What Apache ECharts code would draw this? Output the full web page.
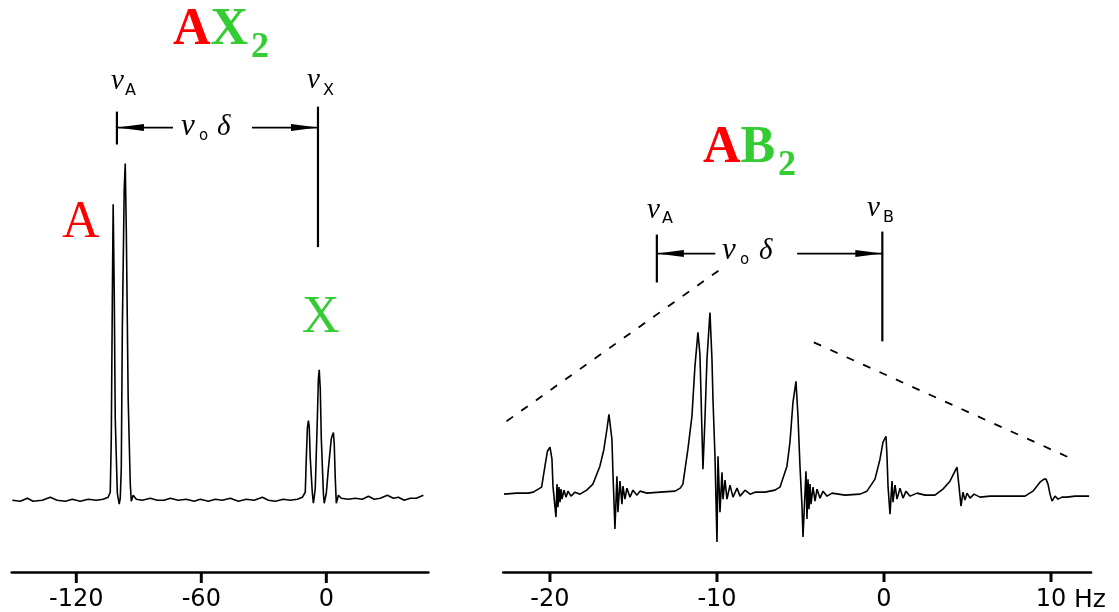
<!DOCTYPE html>
<html>
<head>
<meta charset="utf-8">
<script src="https://cdn.jsdelivr.net/npm/echarts@6/dist/echarts.min.js"></script>
<style>
  html, body { margin: 0; padding: 0; background: #fff; }
  #chart { width: 1119px; height: 612px; }
</style>
</head>
<body>
<div id="chart"></div>
<script>
// AX2 spectrum, [Hz, intensity]
var ax2Trace = [
  [-150.7,0],[-146.9,-1],[-143.5,2],[-140.7,-1],[-136.3,0],[-132.5,3],[-129.2,0],[-125.3,-1],
  [-121.9,1],[-118.1,-1],[-114.3,1],[-110.4,0],[-107.1,1],[-104.7,3],[-103.7,8],[-103.2,62],
  [-102.7,202],[-102.3,297],[-101.8,212],[-101.3,82],[-100.3,7],[-99.4,-4],[-98.9,2],[-98.4,32],
  [-97.9,172],[-97.0,312],[-96.5,338],[-96.0,272],[-95.1,102],[-94.1,17],[-93.6,-1],[-92.7,5],
  [-91.2,1],[-88.3,0],[-84.5,2],[-81.1,0],[-77.8,0],[-74.9,2],[-71.1,0],[-67.2,1],[-63.4,-1],
  [-60.5,1],[-56.6,-1],[-53.3,1],[-49.9,0],[-46.1,2],[-42.2,-1],[-38.4,1],[-34.6,0],[-30.7,3],
  [-27.8,0],[-24.5,-1],[-20.6,1],[-17.3,0],[-13.9,1],[-11.5,3],[-10.1,8],[-9.6,42],[-9.1,72],
  [-8.6,80],[-8.2,74],[-7.7,42],[-6.7,7],[-6.2,-3],[-5.3,12],[-4.3,82],[-3.8,122],[-3.4,131],
  [-2.9,112],[-2.4,62],[-1.4,7],[-1.0,-3],[0,7],[1.0,32],[2.4,62],[3.4,68],[3.8,57],[4.3,22],
  [4.8,-3],[5.8,5],[7.2,2],[10.6,1],[13.9,2],[17.3,1],[20.2,4],[23.0,1],[25.9,2],[29.3,5],
  [32.2,2],[34.6,3],[37.4,0],[40.3,2],[43.2,2],[46.6,5]
]

// AB2 spectrum, [Hz, intensity]
var ab2Trace = [
  [-22.75,0],[-22.0,1],[-21.3,1],[-21.0,2],[-20.5,7],[-20.3,28],[-20.15,43],[-20.0,47],
  [-19.88,35],[-19.82,8],[-19.64,-23],[-19.58,10],[-19.52,-13],[-19.46,7],[-19.4,-8],[-19.34,5],
  [-19.28,-5],[-19.16,4],[-19.04,-3],[-18.92,3],[-18.74,-2],[-18.5,2],[-18.2,0],[-17.8,4],
  [-17.43,10],[-17.01,28],[-16.77,45],[-16.59,65],[-16.47,80],[-16.29,55],[-16.23,22],[-16.11,-35],
  [-15.99,18],[-15.93,-18],[-15.81,13],[-15.69,-10],[-15.63,8],[-15.51,-5],[-15.39,6],[-15.21,-3],
  [-15.03,4],[-14.79,-1],[-14.61,3],[-14.19,1],[-13.41,2],[-12.51,3],[-12.2,6],[-12.04,10],
  [-11.74,45],[-11.5,78],[-11.32,128],[-11.14,162],[-11.02,140],[-10.84,25],[-10.72,75],[-10.6,135],
  [-10.42,182],[-10.3,135],[-10.24,95],[-10.12,38],[-10.0,-48],[-9.94,38],[-9.82,-18],[-9.7,22],
  [-9.64,-5],[-9.52,14],[-9.4,-5],[-9.22,9],[-9.04,-3],[-8.8,6],[-8.62,-2],[-8.32,4],[-8.02,0],
  [-7.72,2],[-7.13,2],[-6.53,4],[-6.23,7],[-5.81,28],[-5.63,52],[-5.45,92],[-5.27,113],[-5.15,78],
  [-5.03,28],[-4.91,-12],[-4.85,-43],[-4.67,23],[-4.61,-25],[-4.55,15],[-4.49,-15],[-4.43,10],
  [-4.37,-10],[-4.25,7],[-4.13,-7],[-4.01,5],[-3.83,-4],[-3.65,3],[-3.41,-2],[-3.11,1],[-2.34,-1],
  [-1.44,0],[-1.02,3],[-0.54,15],[-0.24,35],[-0.06,52],[0.12,58],[0.18,38],[0.24,8],[0.36,-20],
  [0.48,13],[0.54,-8],[0.66,9],[0.78,-5],[0.96,6],[1.14,-4],[1.32,3],[1.56,-2],[1.98,1],[2.46,-1],
  [3.05,-1],[3.53,5],[3.95,13],[4.25,23],[4.37,27],[4.49,8],[4.61,-12],[4.73,2],[4.85,-6],[4.97,1],
  [5.15,-4],[5.39,0],[5.75,-3],[6.35,-2],[7.54,-2],[8.44,-2],[8.92,3],[9.34,12],[9.58,15],[9.7,15],
  [9.82,10],[9.94,0],[10.06,-7],[10.24,-2],[10.42,-5],[10.66,-3],[10.96,-3],[11.44,-2],[12.28,-2]
]

var ax2Ticks = [-120, -60, 0]
var ab2Ticks = [-20, -10, 0, 10]

// chemical shift markers (Hz)
var ax2Nu = [-100.5, -4.0]   // nuA, nuX
var ab2Nu = [-13.6, -0.1]    // nuA, nuB

// dashed envelope of the AB2 pattern
var ab2EnvLeft = [[-22.6, 73], [-9.9, 224]]
var ab2EnvRight = [[-4.2, 152], [11.3, 35]]

var chart = echarts.init(document.getElementById('chart'))

function xAxisFor(grid, min, max, ticks) {
  return {
    type: 'value', gridIndex: grid, min: min, max: max, position: 'bottom',
    axisLine: { onZero: false, lineStyle: { color: '#000', width: 2.5 } },
    axisTick: { show: false },
    axisLabel: { customValues: ticks, color: '#000', fontFamily: 'DejaVu Sans', fontSize: 24, margin: 16 },
    splitLine: { show: false }
  }
}

var traceStyle = { color: '#000', width: 1.6 }
var gridBottom = [38, 39]

chart.setOption({
  animation: false,
  backgroundColor: '#fff',
  grid: [
    { left: 11.7, width: 416.7, top: 0, bottom: gridBottom[0] },
    { left: 503.2, width: 587.9, top: 0, bottom: gridBottom[1] }
  ],
  xAxis: [
    xAxisFor(0, -151, 49, ax2Ticks),
    xAxisFor(1, -22.8, 12.4, ab2Ticks)
  ],
  yAxis: [
    { type: 'value', gridIndex: 0, min: -72, max: 502, show: false },
    { type: 'value', gridIndex: 1, min: -78, max: 495, show: false }
  ],
  series: [
    { type: 'line', xAxisIndex: 0, yAxisIndex: 0, data: ax2Trace, showSymbol: false, lineStyle: traceStyle, silent: true },
    { type: 'line', xAxisIndex: 1, yAxisIndex: 1, data: ab2Trace, showSymbol: false, lineStyle: traceStyle, silent: true },
    { type: 'line', xAxisIndex: 1, yAxisIndex: 1, data: ab2EnvLeft, showSymbol: false, silent: true,
      lineStyle: { color: '#000', width: 1.8, type: [8, 10] } },
    { type: 'line', xAxisIndex: 1, yAxisIndex: 1, data: ab2EnvRight, showSymbol: false, silent: true,
      lineStyle: { color: '#000', width: 1.8, type: [8, 10] } }
  ]
})

// annotations: brackets, arrows and ticks placed in data space
function px(g, p) { return chart.convertToPixel({ gridIndex: g }, p) }

var gfx = []
function seg(a, b, w) {
  gfx.push({ type: 'line', z: 100, shape: { x1: a[0], y1: a[1], x2: b[0], y2: b[1] },
    style: { stroke: '#000', lineWidth: w || 2 }, silent: true })
}
function vbar(g, hz, i1, i2) { seg(px(g, [hz, i1]), px(g, [hz, i2]), 2.2) }
function arrow(g, fromHz, toHz, inten) {
  var a = px(g, [fromHz, inten]), b = px(g, [toHz, inten])
  seg(a, b, 1.8)
  var dir = b[0] > a[0] ? 1 : -1
  gfx.push({ type: 'polygon', silent: true,
    shape: { points: [[b[0], b[1]], [b[0] - dir * 27, b[1] - 3.5], [b[0] - dir * 27, b[1] + 3.5]] },
    style: { fill: '#000' } })
}
function txt(x, y, text, font, color, rich) {
  gfx.push({ type: 'text', silent: true, x: x, y: y,
    style: { text: text, font: font, fill: color || '#000', verticalAlign: 'middle', align: 'left', rich: rich } })
}

// axis ticks, hanging below each axis line
function ticks(g, vals) {
  var yAxisLine = 612 - gridBottom[g]
  vals.forEach(function (v) {
    var x = px(g, [v, 0])[0]
    gfx.push({ type: 'rect', z: 100, silent: true,
      shape: { x: x - 1.5, y: yAxisLine - 1, width: 3, height: 10 },
      style: { fill: '#000' } })
  })
}
ticks(0, ax2Ticks)
ticks(1, ab2Ticks)

// AX2 brackets
vbar(0, ax2Nu[0], 390, 357)
vbar(0, ax2Nu[1], 395, 254)
arrow(0, -73.6, ax2Nu[0], 374)
arrow(0, -35.7, ax2Nu[1], 374)
// AB2 brackets
vbar(1, ab2Nu[0], 260, 212)
vbar(1, ab2Nu[1], 263, 153)
arrow(1, -10.1, ab2Nu[0], 241)
arrow(1, -5.2, ab2Nu[1], 241)

var serifB = 'bold 52px "Liberation Serif"'
var serif = '52px "Liberation Serif"'
var nuF = 'italic 29px "Liberation Serif"'
var subF = '16px "DejaVu Sans"'
var red = '#ff0000', green = '#33cc33'

// titles
txt(173, 31, '{a|A}{b|X}', serifB, red, { a: { fill: red, font: serifB }, b: { fill: green, font: serifB } })
txt(251, 48, '2', 'bold 36px "Liberation Serif"', green)
txt(703, 149, '{a|A}{b|B}', serifB, red, { a: { fill: red, font: serifB }, b: { fill: green, font: serifB } })
txt(778, 166, '2', 'bold 36px "Liberation Serif"', green)
txt(62, 223, 'A', serif, red)
txt(302, 318, 'X', serif, green)

// nu labels
txt(111, 81, '\u03bd', nuF); txt(125, 91, 'A', subF)
txt(307, 80, '\u03bd', nuF); txt(323, 91, 'X', subF)
txt(647, 210, '\u03bd', nuF); txt(662, 219, 'A', subF)
txt(867, 208, '\u03bd', nuF); txt(883, 218, 'B', subF)
// nu0 delta
txt(181, 127, '\u03bd', 'italic 31px "Liberation Serif"'); txt(199, 136, 'o', '15px "DejaVu Sans"')
txt(217, 127, '\u03b4', 'italic 29px "Liberation Serif"')
txt(722, 251, '\u03bd', 'italic 31px "Liberation Serif"'); txt(740, 260, 'o', '15px "DejaVu Sans"')
txt(759, 251, '\u03b4', 'italic 29px "Liberation Serif"')
// unit
txt(1074, 600, 'Hz', '25px "DejaVu Sans"')

chart.setOption({ graphic: gfx })
</script>
</body>
</html>
